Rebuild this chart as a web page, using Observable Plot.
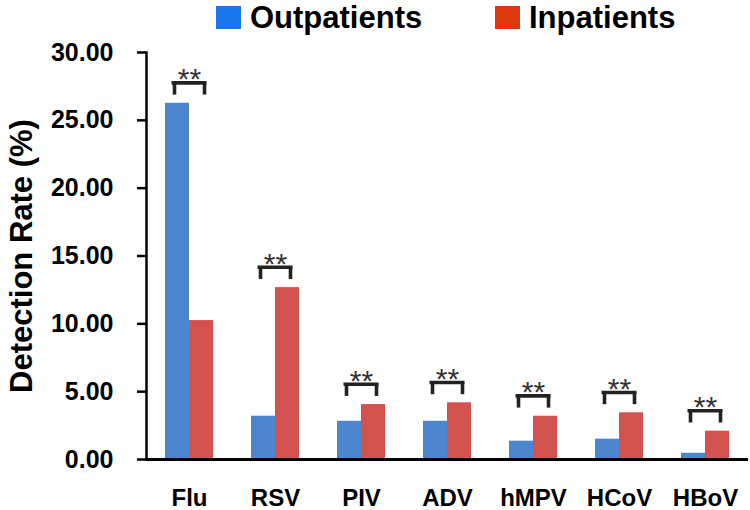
<!DOCTYPE html>
<html><head><meta charset="utf-8">
<script src="https://cdn.jsdelivr.net/npm/d3@7"></script>
<script src="https://cdn.jsdelivr.net/npm/@observablehq/plot@0.6"></script>
<style>
body{margin:0;background:#fff;font-family:"Liberation Sans",Arial,sans-serif;}
#legend{position:relative;width:750px;height:36px;}
.sw{position:absolute;top:6px;width:25px;height:23px;}
.lt{position:absolute;top:0;font-size:31px;font-weight:bold;line-height:36px;color:#000;white-space:nowrap;}
</style></head><body>
<div id="legend"></div>
<div id="chart"></div>
<script>
const categories = ["Flu", "RSV", "PIV", "ADV", "hMPV", "HCoV", "HBoV"];
const series = ["Outpatients", "Inpatients"];
const outpatients = [26.26, 3.19, 2.82, 2.82, 1.35, 1.50, 0.46];
const inpatients = [10.24, 12.67, 4.05, 4.18, 3.19, 3.44, 2.09];
const significance = ["**", "**", "**", "**", "**", "**", "**"];
const yTicks = [0, 5, 10, 15, 20, 25, 30];
const yTitle = "Detection Rate (%)";
const barColors = ["#4d86cf", "#d25250"];
const legendColors = ["#1a76ea", "#dc3a0e"];

// legend
const legend = document.getElementById("legend");
const legendPos = [[216, 250], [495, 529]];
series.forEach((s, i) => {
  const sw = document.createElement("div");
  sw.className = "sw"; sw.style.left = legendPos[i][0] + "px"; sw.style.background = legendColors[i];
  const t = document.createElement("div");
  t.className = "lt"; t.style.left = legendPos[i][1] + "px"; t.textContent = s;
  legend.appendChild(sw); legend.appendChild(t);
});

const rows = [];
categories.forEach((c, i) => {
  rows.push({category: c, series: series[0], value: outpatients[i]});
  rows.push({category: c, series: series[1], value: inpatients[i]});
});
const brackets = categories.map((c, i) => {
  const m = Math.max(outpatients[i], inpatients[i]);
  return {category: c, label: significance[i], bottom: m + 0.6, top: m + 1.5};
});

const font = "'Liberation Sans', Arial, sans-serif";
const chart = Plot.plot({
  width: 750,
  height: 474,
  marginLeft: 145,
  marginRight: 2,
  marginTop: 16,
  marginBottom: 51,
  style: {fontFamily: font, background: "#fff", color: "#000"},
  fx: {domain: categories, padding: 0, label: null},
  x: {domain: series, paddingInner: 0, paddingOuter: 0.755, axis: null},
  y: {domain: [0, 30], label: null},
  color: {domain: series, range: barColors},
  marks: [
    Plot.barY(rows, {fx: "category", x: "series", y: "value", fill: "series"}),
    Plot.ruleY(brackets, {fx: "category", y: "top", stroke: "#222", strokeWidth: 3.6, insetLeft: 25.5, insetRight: 25.5}),
    Plot.ruleX(brackets, {fx: "category", x: () => series[0], y1: "bottom", y2: "top", stroke: "#222", strokeWidth: 3.6, dx: -3}),
    Plot.ruleX(brackets, {fx: "category", x: () => series[1], y1: "bottom", y2: "top", stroke: "#222", strokeWidth: 3.6, dx: 3}),
    Plot.text(brackets, {fx: "category", y: "top", text: "label", fontSize: 30, fill: "#333", lineAnchor: "bottom", dy: 6.5, frameAnchor: "middle"}),
    Plot.ruleY([0], {stroke: "#000", strokeWidth: 3}),
    Plot.frame({anchor: "left", facetAnchor: "left", stroke: "#000", strokeWidth: 2.5}),
    Plot.axisY({ticks: yTicks, tickFormat: d => d.toFixed(2), tickSize: 9, tickPadding: 24, fontSize: 25, fontWeight: "bold", strokeWidth: 2.5, label: null}),
    Plot.axisFx({anchor: "bottom", tickSize: 0, tickPadding: 29, fontSize: 24, fontWeight: "bold", label: null}),
    Plot.text([yTitle], {facetAnchor: "left", frameAnchor: "left", textAnchor: "middle", dx: -124, rotate: -90, fontSize: 31, fontWeight: "bold", fill: "#000", text: d => d})
  ]
});
document.getElementById("chart").appendChild(chart);
</script>
</body></html>
